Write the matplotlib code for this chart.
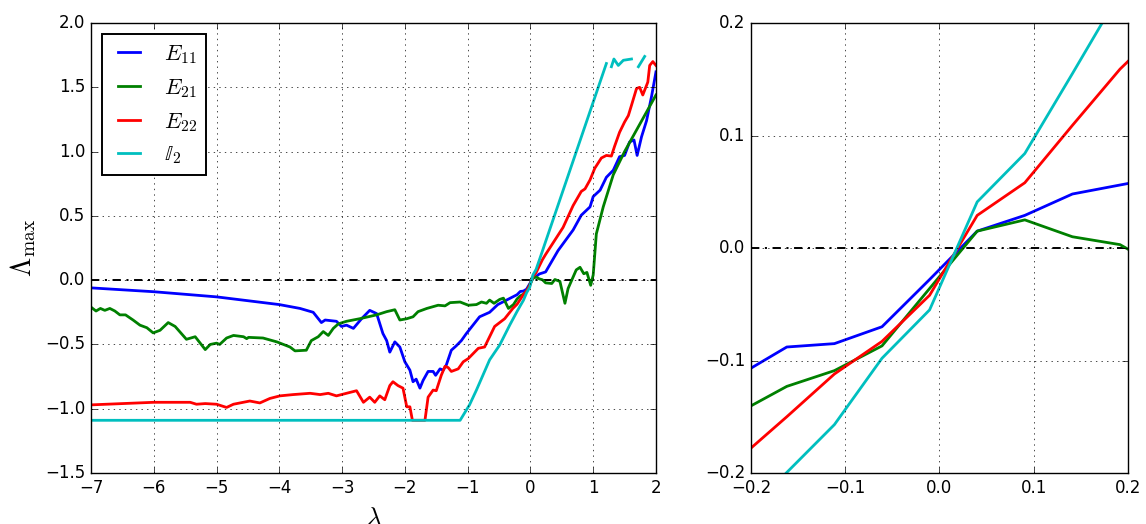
import numpy as np
import matplotlib
matplotlib.use('Agg')
import matplotlib.pyplot as plt

plt.style.use('classic')

nan = np.nan

# E_11
lam_e11 = [-7.0, -6.5, -6.0, -5.5, -5.0, -4.5, -4.0, -3.67, -3.46, -3.33, -3.27, -3.09, -3.01, -2.93,
           -2.82, -2.69, -2.56, -2.45, -2.35, -2.29, -2.24, -2.16, -2.08, -2.0, -1.92, -1.87, -1.82,
           -1.76, -1.71, -1.63, -1.55, -1.51, -1.44, -1.39, -1.34, -1.26, -1.18, -1.10, -1.02, -0.81,
           -0.65, -0.52, -0.38, -0.2125, -0.162, -0.1115, -0.061, -0.0105, 0.040, 0.0905, 0.141,
           0.1915, 0.242, 0.44, 0.68, 0.81, 0.95, 1.00, 1.11, 1.21, 1.32, 1.42, 1.50, 1.58, 1.65,
           1.70, 1.77, 1.85, 1.93, 2.0]
val_e11 = [-0.06, -0.075, -0.09, -0.11, -0.13, -0.16, -0.19, -0.22, -0.25, -0.33, -0.31, -0.32, -0.36, -0.35,
           -0.375, -0.30, -0.235, -0.26, -0.415, -0.47, -0.56, -0.48, -0.52, -0.635, -0.70, -0.79, -0.77,
           -0.84, -0.78, -0.71, -0.71, -0.74, -0.69, -0.70, -0.66, -0.545, -0.51, -0.47, -0.415, -0.285,
           -0.25, -0.19, -0.155, -0.113, -0.088, -0.085, -0.070, -0.028, 0.015, 0.029, 0.048,
           0.056, 0.064, 0.23, 0.39, 0.505, 0.57, 0.65, 0.70, 0.80, 0.855, 0.96, 0.97, 1.075, 1.09,
           0.97, 1.115, 1.24, 1.43, 1.62]

# E_21
lam_e21 = [-7.0, -6.92, -6.85, -6.78, -6.70, -6.62, -6.54, -6.45, -6.33, -6.22, -6.11, -6.01, -5.90,
           -5.77, -5.66, -5.48, -5.34, -5.18, -5.10, -5.0, -4.95, -4.84, -4.73, -4.57, -4.52, -4.49,
           -4.26, -4.04, -3.83, -3.75, -3.57, -3.49, -3.38, -3.30, -3.22, -3.14, -3.06, -2.93, -2.72,
           -2.45, -2.29, -2.16, -2.08, -1.97, -1.87, -1.79, -1.65, -1.47, -1.36, -1.28, -1.12, -0.99,
           -0.86, -0.78, -0.70, -0.65, -0.58, -0.49, -0.43, -0.35, -0.27, -0.2125, -0.162, -0.1115,
           -0.061, -0.0105, 0.040, 0.0905, 0.141, 0.1915, 0.242, 0.34, 0.39, 0.47, 0.55, 0.60, 0.73,
           0.79, 0.85, 0.90, 0.96, 1.00, 1.05, 1.16, 1.32, 1.50, 1.75, 2.0]
val_e21 = [-0.21, -0.24, -0.22, -0.235, -0.22, -0.24, -0.27, -0.27, -0.31, -0.35, -0.37, -0.41, -0.39,
           -0.33, -0.36, -0.46, -0.44, -0.54, -0.50, -0.49, -0.50, -0.45, -0.43, -0.44, -0.455, -0.445,
           -0.45, -0.48, -0.52, -0.55, -0.545, -0.47, -0.44, -0.40, -0.43, -0.375, -0.34, -0.32, -0.30,
           -0.27, -0.245, -0.23, -0.31, -0.30, -0.285, -0.245, -0.22, -0.195, -0.20, -0.175, -0.17, -0.195,
           -0.19, -0.17, -0.18, -0.155, -0.18, -0.15, -0.14, -0.22, -0.19, -0.146, -0.123, -0.109,
           -0.087, -0.036, 0.015, 0.025, 0.010, 0.003, -0.021, -0.026, 0.005, -0.01, -0.18, -0.065, 0.08,
           0.10, 0.05, 0.06, -0.04, 0.04, 0.36, 0.57, 0.82, 1.0, 1.22, 1.44]

# E_22
lam_e22 = [-7.0, -6.0, -5.42, -5.32, -5.18, -5.0, -4.84, -4.73, -4.47, -4.31, -4.15, -3.99, -3.78,
           -3.51, -3.35, -3.22, -3.09, -2.93, -2.77, -2.66, -2.56, -2.48, -2.40, -2.32, -2.24, -2.19,
           -2.11, -2.03, -1.97, -1.92, -1.88, -1.68, -1.63, -1.55, -1.50, -1.42, -1.36, -1.31, -1.26,
           -1.15, -1.07, -0.99, -0.83, -0.73, -0.57, -0.41, -0.28, -0.2125, -0.162, -0.1115, -0.061,
           -0.0105, 0.040, 0.0905, 0.141, 0.1915, 0.242, 0.52, 0.68, 0.81, 0.87, 0.95, 1.025, 1.13,
           1.21, 1.29, 1.34, 1.42, 1.50, 1.56, 1.61, 1.69, 1.74, 1.79, 1.87, 1.90, 1.95, 2.0]
val_e22 = [-0.97, -0.95, -0.95, -0.965, -0.96, -0.965, -0.99, -0.965, -0.94, -0.955, -0.92, -0.90, -0.89,
           -0.88, -0.89, -0.88, -0.90, -0.88, -0.86, -0.95, -0.91, -0.95, -0.90, -0.93, -0.82, -0.79,
           -0.82, -0.84, -0.985, -0.985, -1.09, -1.09, -0.91, -0.855, -0.86, -0.74, -0.67, -0.68, -0.71,
           -0.69, -0.635, -0.61, -0.53, -0.52, -0.36, -0.30, -0.22, -0.187, -0.150, -0.112, -0.083,
           -0.042, 0.029, 0.058, 0.109, 0.159, 0.20, 0.41, 0.58, 0.69, 0.71, 0.78, 0.87, 0.95,
           0.97, 0.965, 1.04, 1.15, 1.23, 1.28, 1.36, 1.49, 1.50, 1.44, 1.54, 1.67, 1.70, 1.67]

# I_2 (nan = no value there)
lam_i2 = [-7.0, -1.12, -0.97, -0.86, -0.65, -0.49, -0.33, -0.2125, -0.162, -0.1115, -0.061, -0.0105,
          0.040, 0.0905, 0.141, 0.1915, 0.242, 1.21, 1.25, 1.29, 1.33, 1.40, 1.48, 1.61, 1.66, 1.72,
          1.82, 1.86]
val_i2 = [-1.09, -1.09, -0.97, -0.855, -0.62, -0.505, -0.35, -0.243, -0.1995, -0.157, -0.098, -0.055,
          0.041, 0.084, 0.155, 0.227, 0.30, 1.685, nan, 1.66, 1.72, 1.67, 1.71, 1.72, nan, 1.66,
          1.74, nan]

series = [(lam_e11, val_e11, 'b', r'$E_{11}$'),
          (lam_e21, val_e21, 'g', r'$E_{21}$'),
          (lam_e22, val_e22, 'r', r'$E_{22}$'),
          (lam_i2, val_i2, 'c', r'$\mathbb{I}_2$')]

fig = plt.figure(figsize=(11.46, 5.24), dpi=100, facecolor='w')
ax1 = fig.add_axes([0.0794, 0.0973, 0.493, 0.8588])
ax2 = fig.add_axes([0.6553, 0.0973, 0.329, 0.8588])

for ax in (ax1, ax2):
    ax.axhline(0, color='k', linestyle='-.', dashes=[6, 4, 1.5, 4], linewidth=1.4)
    for lam, val, col, lab in series:
        ax.plot(lam, val, col, linewidth=2.0, label=lab)
    ax.grid(True)

ax1.set_xlim(-7, 2)
ax1.set_ylim(-1.5, 2.0)
ax1.set_xticks(np.arange(-7, 3, 1))
ax1.set_yticks(np.arange(-1.5, 2.01, 0.5))
ax1.set_xlabel(r'$\lambda$', fontsize=18, labelpad=6.5)
ax1.set_ylabel(r'$\Lambda_{\max}$', fontsize=20)
leg = ax1.legend(loc='upper left', fontsize=16, handlelength=1.6)
leg.get_frame().set_linewidth(1.4)

ax2.set_xlim(-0.2, 0.2)
ax2.set_ylim(-0.2, 0.2)
ax2.set_xticks(np.arange(-0.2, 0.21, 0.1))
ax2.set_yticks(np.arange(-0.2, 0.21, 0.1))

fig.savefig('out.png', dpi=100, facecolor='w')
